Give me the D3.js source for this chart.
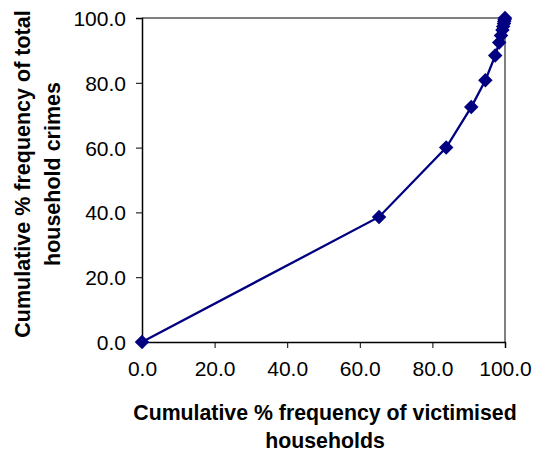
<!DOCTYPE html>
<html>
<head>
<meta charset="utf-8">
<script src="https://cdn.jsdelivr.net/npm/d3@7"></script>
<style>
  html, body { margin: 0; padding: 0; background: #fff; }
  svg { display: block; }
  text { font-family: Arial, "Liberation Sans", sans-serif; fill: #000; }
</style>
</head>
<body>
<svg id="chart" width="535" height="452"></svg>
<script>
// Cumulative % of victimised households vs cumulative % of household crimes
const householdsPct = [0, 65.3, 83.8, 90.7, 94.6, 97.3, 98.4, 98.9, 99.3, 99.5, 99.7, 99.8, 99.9, 100];
const crimesPct     = [0, 38.6, 60.0, 72.5, 80.8, 88.4, 92.4, 94.6, 96.3, 97.4, 98.3, 99.0, 99.5, 100];
const tickValues = [0, 20, 40, 60, 80, 100];
const xTitleLines = ["Cumulative % frequency of victimised", "households"];
const yTitleLines = ["Cumulative % frequency of total", "household crimes"];

const points = householdsPct.map((x, i) => ({ x, y: crimesPct[i] }));

const svg = d3.select("#chart");
const plot = { left: 142, right: 505, top: 18, bottom: 342 };

const x = d3.scaleLinear().domain([0, 100]).range([plot.left, plot.right]);
const y = d3.scaleLinear().domain([0, 100]).range([plot.bottom, plot.top]);

// plot frame: grey top and right edges
svg.append("path")
  .attr("d", `M${plot.left},${plot.top}H${plot.right}V${plot.bottom}`)
  .attr("fill", "none")
  .attr("stroke", "#808080")
  .attr("stroke-width", 2);

const fmt = d3.format(".1f");

const xAxis = svg.append("g")
  .attr("transform", `translate(0,${plot.bottom})`)
  .call(d3.axisBottom(x).tickValues(tickValues).tickFormat(fmt).tickSizeOuter(0).tickSize(6).tickPadding(10));

const yAxis = svg.append("g")
  .attr("transform", `translate(${plot.left},0)`)
  .call(d3.axisLeft(y).tickValues(tickValues).tickFormat(fmt).tickSizeOuter(0).tickSize(6).tickPadding(10));

[xAxis, yAxis].forEach(g => {
  g.select(".domain").attr("stroke", "#000").attr("stroke-width", 1.5);
  g.selectAll(".tick line").attr("stroke", "#000").attr("stroke-width", 1);
  g.selectAll(".tick text")
    .attr("font-family", "Arial, 'Liberation Sans', sans-serif")
    .attr("font-size", 21)
    .attr("fill", "#000");
});
xAxis.selectAll(".tick text").attr("dy", "0.87em");
yAxis.selectAll(".tick text").attr("dy", "0.36em");

// series line
const line = d3.line().x(d => x(d.x)).y(d => y(d.y));
svg.append("path")
  .datum(points)
  .attr("d", line)
  .attr("fill", "none")
  .attr("stroke", "#000080")
  .attr("stroke-width", 2.3);

// diamond markers
const diamond = d3.symbol().type(d3.symbolSquare).size(105);
svg.selectAll(".marker")
  .data(points)
  .join("path")
  .attr("class", "marker")
  .attr("d", diamond)
  .attr("transform", d => `translate(${x(d.x)},${y(d.y)}) rotate(45)`)
  .attr("fill", "#000080");

// x axis title
svg.append("text")
  .attr("x", 325)
  .attr("y", 420)
  .attr("text-anchor", "middle")
  .attr("font-weight", "bold")
  .attr("font-size", 21.3)
  .selectAll("tspan")
  .data(xTitleLines)
  .join("tspan")
  .attr("x", 325)
  .attr("dy", (d, i) => i === 0 ? 0 : 28)
  .text(d => d);

// y axis title
svg.append("text")
  .attr("transform", "translate(30,174) rotate(-90)")
  .attr("text-anchor", "middle")
  .attr("font-weight", "bold")
  .attr("font-size", 21.5)
  .selectAll("tspan")
  .data(yTitleLines)
  .join("tspan")
  .attr("x", 0)
  .attr("dy", (d, i) => i === 0 ? 0 : 30)
  .text(d => d);
</script>
</body>
</html>
